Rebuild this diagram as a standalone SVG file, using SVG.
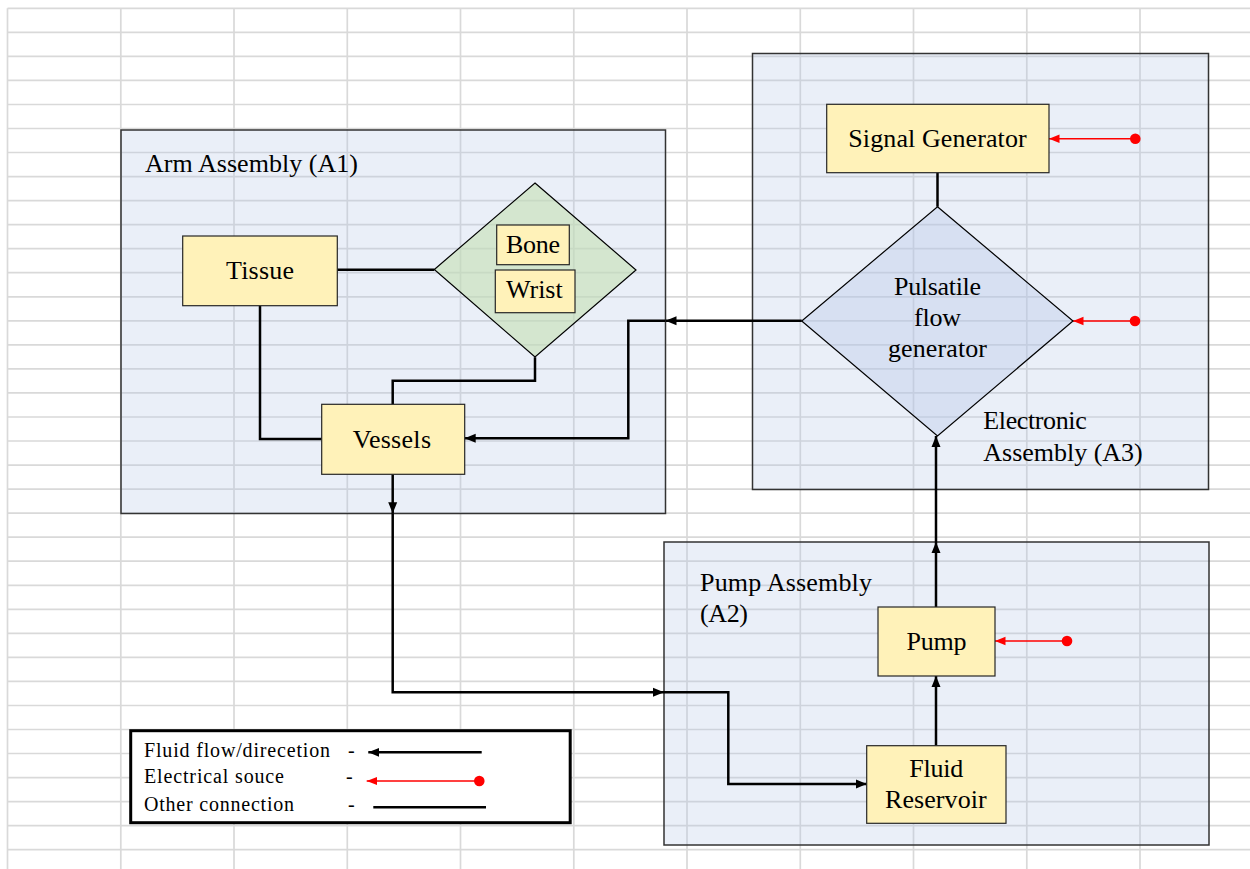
<svg xmlns="http://www.w3.org/2000/svg" width="1250" height="869" viewBox="0 0 1250 869">
<style>
.grid line{stroke:#d9d9d9;stroke-width:1.7}
.asm{fill:#b4c7e7;fill-opacity:0.28;stroke:#333;stroke-width:1.5}
.node{fill:#fff2b9;stroke:#262626;stroke-width:1.2}
text{font-family:"Liberation Serif","Times New Roman",serif;font-size:26px;fill:#000}
.lg{font-size:20px}
.conn{stroke:#000;stroke-width:2.5;fill:none}
.flow{marker-end:url(#arr)}
.elec{stroke:#ff0000;stroke-width:1.5;fill:none;marker-end:url(#arrR);marker-start:url(#dot)}
</style>
<defs>
<marker id="arr" markerUnits="userSpaceOnUse" markerWidth="12" markerHeight="10" refX="11" refY="5" orient="auto"><path d="M0,0.5 L11,5 L0,9.5 z" fill="#000"/></marker>
<marker id="arrR" markerUnits="userSpaceOnUse" markerWidth="11" markerHeight="10" refX="10.5" refY="5" orient="auto"><path d="M0,0.8 L10.5,5 L0,9.2 z" fill="#ff0000"/></marker>
<marker id="dot" markerUnits="userSpaceOnUse" markerWidth="12" markerHeight="12" refX="6" refY="6"><circle cx="6" cy="6" r="5.3" fill="#ff0000"/></marker>
</defs>
<rect width="1250" height="869" fill="#fff"/>
<g class="grid">
<line x1="7.5" y1="8.3" x2="1250" y2="8.3"/><line x1="7.5" y1="32.3" x2="1250" y2="32.3"/><line x1="7.5" y1="56.4" x2="1250" y2="56.4"/><line x1="7.5" y1="80.4" x2="1250" y2="80.4"/><line x1="7.5" y1="104.5" x2="1250" y2="104.5"/><line x1="7.5" y1="128.5" x2="1250" y2="128.5"/><line x1="7.5" y1="152.5" x2="1250" y2="152.5"/><line x1="7.5" y1="176.6" x2="1250" y2="176.6"/><line x1="7.5" y1="200.6" x2="1250" y2="200.6"/><line x1="7.5" y1="224.7" x2="1250" y2="224.7"/><line x1="7.5" y1="248.7" x2="1250" y2="248.7"/><line x1="7.5" y1="272.7" x2="1250" y2="272.7"/><line x1="7.5" y1="296.8" x2="1250" y2="296.8"/><line x1="7.5" y1="320.8" x2="1250" y2="320.8"/><line x1="7.5" y1="344.9" x2="1250" y2="344.9"/><line x1="7.5" y1="368.9" x2="1250" y2="368.9"/><line x1="7.5" y1="392.9" x2="1250" y2="392.9"/><line x1="7.5" y1="417" x2="1250" y2="417"/><line x1="7.5" y1="441" x2="1250" y2="441"/><line x1="7.5" y1="465.1" x2="1250" y2="465.1"/><line x1="7.5" y1="489.1" x2="1250" y2="489.1"/><line x1="7.5" y1="513.1" x2="1250" y2="513.1"/><line x1="7.5" y1="537.2" x2="1250" y2="537.2"/><line x1="7.5" y1="561.2" x2="1250" y2="561.2"/><line x1="7.5" y1="585.3" x2="1250" y2="585.3"/><line x1="7.5" y1="609.3" x2="1250" y2="609.3"/><line x1="7.5" y1="633.3" x2="1250" y2="633.3"/><line x1="7.5" y1="657.4" x2="1250" y2="657.4"/><line x1="7.5" y1="681.4" x2="1250" y2="681.4"/><line x1="7.5" y1="705.5" x2="1250" y2="705.5"/><line x1="7.5" y1="729.5" x2="1250" y2="729.5"/><line x1="7.5" y1="753.5" x2="1250" y2="753.5"/><line x1="7.5" y1="777.6" x2="1250" y2="777.6"/><line x1="7.5" y1="801.6" x2="1250" y2="801.6"/><line x1="7.5" y1="825.7" x2="1250" y2="825.7"/><line x1="7.5" y1="849.7" x2="1250" y2="849.7"/>
<line x1="7.5" y1="8.3" x2="7.5" y2="869"/><line x1="120.8" y1="8.3" x2="120.8" y2="869"/><line x1="234" y1="8.3" x2="234" y2="869"/><line x1="347.3" y1="8.3" x2="347.3" y2="869"/><line x1="460.5" y1="8.3" x2="460.5" y2="869"/><line x1="573.8" y1="8.3" x2="573.8" y2="869"/><line x1="687" y1="8.3" x2="687" y2="869"/><line x1="800.3" y1="8.3" x2="800.3" y2="869"/><line x1="913.5" y1="8.3" x2="913.5" y2="869"/><line x1="1026.8" y1="8.3" x2="1026.8" y2="869"/><line x1="1140" y1="8.3" x2="1140" y2="869"/>
</g>
<g id="arm-assembly">
<rect class="asm" x="121" y="130" width="544.5" height="383.5"/>
<text x="145" y="172" textLength="213" lengthAdjust="spacing">Arm Assembly (A1)</text>
</g>
<g id="electronic-assembly">
<rect class="asm" x="752.5" y="53.5" width="456" height="436"/>
<text x="983.3" y="429.3" textLength="103.4" lengthAdjust="spacing">Electronic</text>
<text x="983.3" y="460.7" textLength="159.4" lengthAdjust="spacing">Assembly (A3)</text>
</g>
<g id="pump-assembly">
<rect class="asm" x="664" y="542" width="545" height="303"/>
<text x="700" y="591" textLength="172" lengthAdjust="spacing">Pump Assembly</text>
<text x="700" y="622" textLength="48" lengthAdjust="spacing">(A2)</text>
</g>
<g class="connectors">
<path class="conn" d="M337.3 269.7 H434.3"/>
<path class="conn" d="M260 305.7 V439 H321.7"/>
<path class="conn" d="M392.7 404.3 V380.7 H535 V357.3"/>
<path class="conn flow" d="M801.7 320.7 H665.5"/>
<path class="conn flow" d="M665 320.7 H628.3 V438.3 H464.7"/>
<path class="conn flow" d="M392.7 474.3 V513.3"/>
<path class="conn flow" d="M392.7 513.3 V692.3 H664"/>
<path class="conn flow" d="M664 692.3 H728.3 V784 H866.7"/>
<path class="conn flow" d="M936 745.7 V676"/>
<path class="conn flow" d="M936 607 V542"/>
<path class="conn flow" d="M936 542 V436"/>
<path class="conn" d="M937.5 172.7 V206.7"/>
<path class="elec" d="M1135.3 138.7 H1049"/>
<path class="elec" d="M1135 321 H1073"/>
<path class="elec" d="M1067 641 H995"/>
</g>
<g id="tissue">
<rect class="node" x="182.7" y="236" width="154.6" height="69.7"/>
<text x="226" y="279.3" textLength="68" lengthAdjust="spacing">Tissue</text>
</g>
<g id="bone-wrist">
<polygon points="535,183 636,270 535,357 434.3,269.5" fill="#c5e0b4" fill-opacity="0.6" stroke="#000" stroke-width="1.2"/>
</g>
<g id="bone">
<rect class="node" x="496.7" y="225" width="72.6" height="39.7"/>
<text x="506" y="252.7" textLength="54" lengthAdjust="spacing">Bone</text>
</g>
<g id="wrist">
<rect class="node" x="495.3" y="270" width="79.7" height="42.7"/>
<text x="506" y="298.3" textLength="56.7" lengthAdjust="spacing">Wrist</text>
</g>
<g id="vessels">
<rect class="node" x="321.7" y="404.3" width="143" height="70"/>
<text x="352.7" y="447.7" textLength="78.3" lengthAdjust="spacing">Vessels</text>
</g>
<g id="signal-generator">
<rect class="node" x="826.7" y="104.3" width="222.3" height="68.4"/>
<text x="848.3" y="146.7" textLength="178.4" lengthAdjust="spacing">Signal Generator</text>
</g>
<g id="pulsatile-flow-generator">
<polygon points="937.5,206.7 1073,321 937.5,436 801.7,321" fill="#b4c7e7" fill-opacity="0.35" stroke="#000" stroke-width="1.2"/>
<text x="937.5" y="294.5" text-anchor="middle" textLength="87" lengthAdjust="spacing">Pulsatile</text>
<text x="937.5" y="325.5" text-anchor="middle" textLength="47" lengthAdjust="spacing">flow</text>
<text x="937.5" y="356.5" text-anchor="middle" textLength="99" lengthAdjust="spacing">generator</text>
</g>
<g id="pump">
<rect class="node" x="878" y="607" width="117" height="69"/>
<text x="936.5" y="650" text-anchor="middle" textLength="60" lengthAdjust="spacing">Pump</text>
</g>
<g id="fluid-reservoir">
<rect class="node" x="866.7" y="745.7" width="139.3" height="77.6"/>
<text x="936.3" y="777.3" text-anchor="middle" textLength="54" lengthAdjust="spacing">Fluid</text>
<text x="885" y="808.3" textLength="101.7" lengthAdjust="spacing">Reservoir</text>
</g>
<g id="legend">
<rect x="130.7" y="730.7" width="439.5" height="92" fill="#fff" stroke="#000" stroke-width="3"/>
<text class="lg" x="144" y="757.3" textLength="186" lengthAdjust="spacing">Fluid flow/direcetion</text>
<text class="lg" x="348" y="757.3">-</text>
<text class="lg" x="144" y="783.3" textLength="140" lengthAdjust="spacing">Electrical souce</text>
<text class="lg" x="346" y="783.3">-</text>
<text class="lg" x="144" y="810.7" textLength="150" lengthAdjust="spacing">Other connection</text>
<text class="lg" x="348" y="810.7">-</text>
<path class="conn flow" d="M481.7 752.3 H368.3"/>
<path class="elec" d="M479.3 781 H366.7"/>
<path class="conn" d="M373.3 807.3 H486" stroke-width="2.3"/>
</g>
</svg>
